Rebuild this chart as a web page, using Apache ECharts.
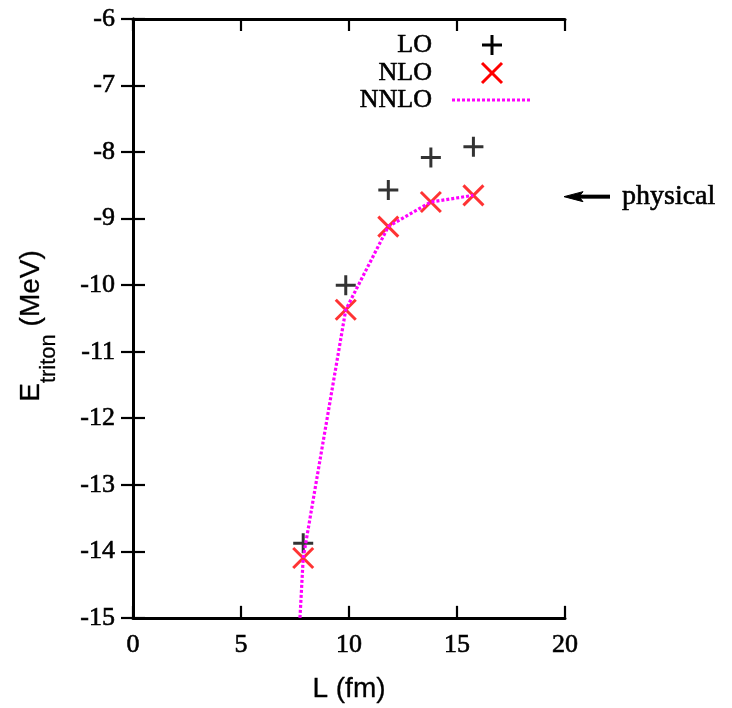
<!DOCTYPE html>
<html>
<head>
<meta charset="utf-8">
<script src="https://cdn.jsdelivr.net/npm/echarts@6/dist/echarts.min.js"></script>
<style>
html,body{margin:0;padding:0;background:#fff;}
#c{width:732px;height:708px;}
</style>
</head>
<body>
<div id="c"></div>
<script>
// ---- data ----
const L_fm = [7.88, 9.85, 11.82, 13.79, 15.76];
const E_LO = [-13.88, -10.0, -8.57, -8.08, -7.92];
const E_NLO = [-14.10, -10.37, -9.12, -8.75, -8.65];
const L_NNLO = [7.73, 7.88, 9.85, 11.82, 13.79, 15.76];
const E_NNLO = [-15.0, -14.10, -10.37, -9.12, -8.75, -8.65];
const E_physical = -8.67;
const legendNames = ['LO', 'NLO', 'NNLO'];
const xTicks = {min: 0, max: 20, interval: 5};
const yTicks = {min: -15, max: -6, interval: 1};

const serif = 'Liberation Serif';
const sans = 'Liberation Sans';
const plusPath = 'path://M0,10L20,10M10,0L10,20';
const crossPath = 'path://M0,0L20,20M20,0L0,20';

const chart = echarts.init(document.getElementById('c'));

const axisLine = {show: true, lineStyle: {color: '#000', width: 3}};
const tick = {show: true, inside: true, length: 12, lineStyle: {color: '#000', width: 2.2}};
const tickLabel = (margin) => ({
  margin: margin, color: '#000', fontFamily: serif, fontSize: 26,
  formatter: v => '{t|' + v + '}',
  rich: {t: {fontFamily: serif, fontSize: 26, color: '#000', textBorderColor: '#000', textBorderWidth: 0.6}}
});

const option = {
  animation: false,
  backgroundColor: '#fff',
  grid: {left: 133, top: 19, right: 167, bottom: 86, containLabel: false},
  xAxis: [
    {type: 'value', position: 'bottom', min: xTicks.min, max: xTicks.max, interval: xTicks.interval,
     axisLine: axisLine, axisTick: tick, splitLine: {show: false},
     axisLabel: tickLabel(14),
     name: 'L (fm)', nameLocation: 'middle', nameGap: 57,
     nameTextStyle: {color: '#000', fontFamily: sans, fontSize: 28, textBorderColor: '#000', textBorderWidth: 0.3}},
    {type: 'value', position: 'top', min: xTicks.min, max: xTicks.max, interval: xTicks.interval,
     axisLine: axisLine, axisTick: tick, axisLabel: {show: false}, splitLine: {show: false}}
  ],
  yAxis: [
    {type: 'value', position: 'left', min: yTicks.min, max: yTicks.max, interval: yTicks.interval,
     axisLine: axisLine, axisTick: tick, splitLine: {show: false},
     axisLabel: tickLabel(18)},
    {type: 'value', position: 'right', min: yTicks.min, max: yTicks.max, interval: yTicks.interval,
     axisLine: axisLine, axisTick: tick, axisLabel: {show: false}, splitLine: {show: false}}
  ],
  series: [
    {name: legendNames[0], type: 'scatter', symbol: plusPath, symbolSize: 20,
     itemStyle: {color: 'transparent', borderColor: '#000', borderWidth: 3},
     data: L_fm.map((x, i) => [x, E_LO[i]]), z: 3},
    {name: legendNames[1], type: 'scatter', symbol: crossPath, symbolSize: 20,
     itemStyle: {color: 'transparent', borderColor: '#ff0000', borderWidth: 3},
     data: L_fm.map((x, i) => [x, E_NLO[i]]), z: 4},
    {name: legendNames[2], type: 'line', showSymbol: false, symbol: 'none', clip: true,
     lineStyle: {color: '#ff00ff', width: 3.2, type: [3, 2]},
     data: L_NNLO.map((x, i) => [x, E_NNLO[i]]), z: 5}
  ]
};
chart.setOption(option);

// legend + y title + physical arrow (decorations)
const yPhys = chart.convertToPixel({xAxisIndex: 0, yAxisIndex: 0}, [20, E_physical]);
const px = yPhys[0], py = yPhys[1];
const legX = 432, legY = [45, 73, 100], symX = 492;
const serifText = (t, x, y, al, size) => ({type: 'text', x: x, y: y,
  style: {text: t, align: al, verticalAlign: 'middle', font: size + 'px "' + serif + '"', fill: '#000', stroke: '#000', lineWidth: 0.6}});

chart.setOption({
  graphic: [
    serifText(legendNames[0], legX, legY[0], 'right', 26),
    serifText(legendNames[1], legX, legY[1], 'right', 26),
    serifText(legendNames[2], legX, legY[2], 'right', 26),
    {type: 'polyline', shape: {points: [[symX - 10, legY[0]], [symX + 10, legY[0]]]}, style: {stroke: '#000', lineWidth: 3}},
    {type: 'polyline', shape: {points: [[symX, legY[0] - 10], [symX, legY[0] + 10]]}, style: {stroke: '#000', lineWidth: 3}},
    {type: 'polyline', shape: {points: [[symX - 10, legY[1] - 10], [symX + 10, legY[1] + 10]]}, style: {stroke: '#ff0000', lineWidth: 3}},
    {type: 'polyline', shape: {points: [[symX + 10, legY[1] - 10], [symX - 10, legY[1] + 10]]}, style: {stroke: '#ff0000', lineWidth: 3}},
    {type: 'polyline', shape: {points: [[452, legY[2]], [530, legY[2]]]}, style: {stroke: '#ff00ff', lineWidth: 3.2, lineDash: [3, 2]}},
    {type: 'text', x: 31, y: 326, rotation: Math.PI / 2,
     style: {text: '{m|E}{s|triton}{m| (MeV)}', align: 'center', verticalAlign: 'middle',
       rich: {m: {fontFamily: sans, fontSize: 28, fill: '#000', stroke: '#000', lineWidth: 0.3, lineHeight: 32, verticalAlign: 'middle'},
              s: {fontFamily: sans, fontSize: 22, fill: '#000', stroke: '#000', lineWidth: 0.3, lineHeight: 58, verticalAlign: 'bottom'}}}},
    {type: 'polyline', shape: {points: [[px + 14, py], [px + 45, py]]}, style: {stroke: '#000', lineWidth: 4}},
    {type: 'polygon', shape: {points: [[px - 1, py], [px + 18, py - 5], [px + 14, py], [px + 18, py + 5]]}, style: {fill: '#000', stroke: '#000', lineWidth: 1}},
    serifText('physical', px + 57, py, 'left', 28)
  ]
});
</script>
</body>
</html>
